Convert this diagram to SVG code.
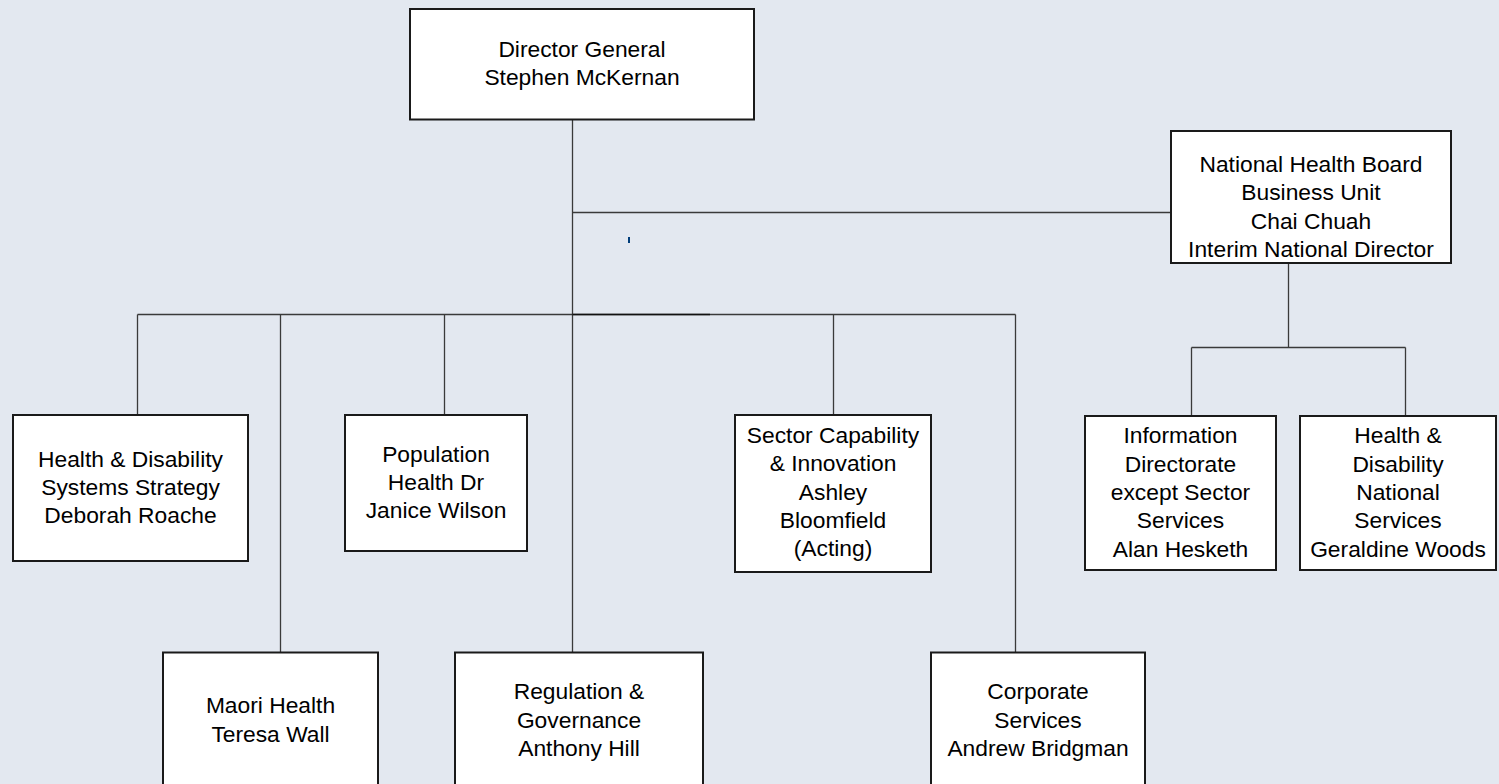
<svg xmlns="http://www.w3.org/2000/svg" width="1499" height="784" viewBox="0 0 1499 784">
<style>
.box{fill:#ffffff;stroke:#1a1a1a;stroke-width:2}
.ln{fill:none;stroke:#3a3a3a;stroke-width:1.3}
text{font-family:"Liberation Sans",Arial,sans-serif;font-size:22.8px;fill:#000;text-anchor:middle}
</style>
<rect x="0" y="0" width="1499" height="784" fill="#e3e8f0"/>
<g id="connectors">
<path class="ln" d="M572.5 120V652"/>
<path class="ln" d="M572.5 212.5H1171"/>
<path class="ln" d="M137.5 314.5H1015.5"/>
<path d="M572.5 314.5H710" stroke="#111" stroke-width="1.6" fill="none"/>
<path class="ln" d="M137.5 314.5V415M280.5 314.5V652M444.5 314.5V415M833.5 314.5V415M1015.5 314.5V652"/>
<path class="ln" d="M1288.5 263V347.5M1191.5 347.5H1405.5M1191.5 347.5V416M1405.5 347.5V416"/>
<rect x="628" y="237" width="2" height="6" fill="#003d7a"/>
</g>
<g id="director-general">
<rect class="box" x="410" y="9" width="344" height="110.5"/>
<text x="582" y="56.7">Director General</text>
<text x="582" y="85">Stephen McKernan</text>
</g>
<g id="nhb">
<rect class="box" x="1171" y="131" width="280" height="132"/>
<text x="1311" y="172">National Health Board</text>
<text x="1311" y="200.3">Business Unit</text>
<text x="1311" y="228.6">Chai Chuah</text>
<text x="1311" y="256.9">Interim National Director</text>
</g>
<g id="hd-systems">
<rect class="box" x="13" y="415" width="235" height="146"/>
<text x="130.5" y="466.7">Health &amp; Disability</text>
<text x="130.5" y="495">Systems Strategy</text>
<text x="130.5" y="523.3">Deborah Roache</text>
</g>
<g id="population">
<rect class="box" x="345" y="415" width="182" height="136"/>
<text x="436" y="461.7">Population</text>
<text x="436" y="490">Health Dr</text>
<text x="436" y="518.3">Janice Wilson</text>
</g>
<g id="sector">
<rect class="box" x="735" y="415" width="196" height="157"/>
<text x="833" y="443">Sector Capability</text>
<text x="833" y="471.3">&amp; Innovation</text>
<text x="833" y="499.6">Ashley</text>
<text x="833" y="527.9">Bloomfield</text>
<text x="833" y="556.2">(Acting)</text>
</g>
<g id="information">
<rect class="box" x="1085" y="416" width="191" height="154"/>
<text x="1180.5" y="443.3">Information</text>
<text x="1180.5" y="471.6">Directorate</text>
<text x="1180.5" y="499.9">except Sector</text>
<text x="1180.5" y="528.2">Services</text>
<text x="1180.5" y="556.5">Alan Hesketh</text>
</g>
<g id="hd-national">
<rect class="box" x="1300" y="416" width="196" height="154"/>
<text x="1398" y="443.3">Health &amp;</text>
<text x="1398" y="471.6">Disability</text>
<text x="1398" y="499.9">National</text>
<text x="1398" y="528.2">Services</text>
<text x="1398" y="556.5">Geraldine Woods</text>
</g>
<g id="maori">
<rect class="box" x="163" y="652.5" width="215" height="150"/>
<text x="270.5" y="713.3">Maori Health</text>
<text x="270.5" y="741.6">Teresa Wall</text>
</g>
<g id="regulation">
<rect class="box" x="455" y="652.5" width="248" height="150"/>
<text x="579" y="699.3">Regulation &amp;</text>
<text x="579" y="727.6">Governance</text>
<text x="579" y="755.9">Anthony Hill</text>
</g>
<g id="corporate">
<rect class="box" x="931" y="652.5" width="214" height="150"/>
<text x="1038" y="699.3">Corporate</text>
<text x="1038" y="727.6">Services</text>
<text x="1038" y="755.9">Andrew Bridgman</text>
</g>
</svg>
